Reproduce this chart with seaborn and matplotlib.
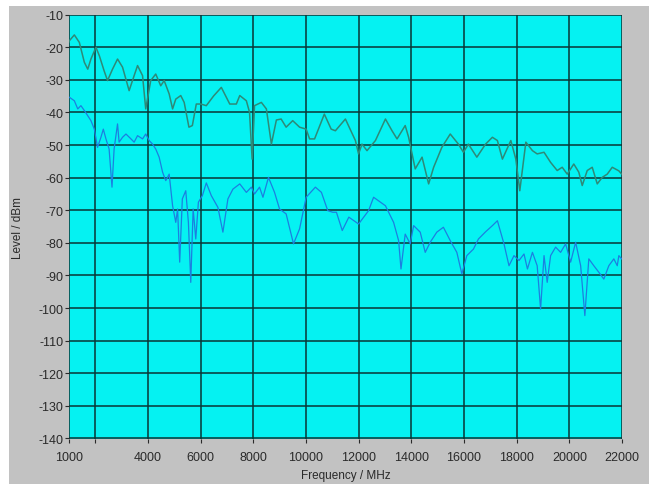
import matplotlib
matplotlib.use("Agg")
import matplotlib.pyplot as plt
from matplotlib.patches import Rectangle
import seaborn as sns
import pandas as pd

# ---- data (frequency in MHz, level in dBm) ----
upper_freq = [1000, 1020, 1210, 1400, 1590, 1720, 1840, 2030, 2160, 2340, 2470, 2660, 2850, 3040,
              3290, 3480, 3610, 3800, 3920, 4110, 4300, 4490, 4620, 4810, 4940, 5060, 5250, 5380,
              5560, 5690, 5840, 6010, 6220, 6500, 6790, 7110, 7360, 7490, 7740, 7860, 7960, 8050,
              8310, 8500, 8690, 8880, 9060, 9250, 9500, 9760, 10010, 10140, 10330, 10700, 10960,
              11120, 11500, 11880, 12000, 12130, 12320, 12640, 13020, 13270, 13460, 13770, 13900,
              14150, 14410, 14660, 14850, 15160, 15480, 15790, 15980, 16170, 16490, 16820, 17080,
              17270, 17460, 17780, 17970, 18120, 18350, 18600, 18780, 19040, 19290, 19540, 19730,
              19920, 20170, 20360, 20490, 20680, 20870, 21060, 21250, 21440, 21630, 21880, 22000]
upper_level = [-18.5, -18.0, -16.2, -18.5, -24.6, -26.7, -23.6, -20.0, -22.6, -27.2, -30.2, -26.7,
               -23.6, -26.1, -33.3, -28.7, -25.6, -28.7, -38.9, -30.2, -28.2, -31.8, -30.2, -34.3,
               -38.9, -35.9, -34.8, -36.9, -44.5, -44.0, -37.4, -37.4, -37.9, -34.9, -32.3, -37.4,
               -37.4, -34.8, -36.4, -39.9, -54.3, -37.9, -36.9, -38.9, -49.7, -42.3, -42.0, -44.5,
               -42.5, -44.5, -45.1, -48.1, -48.1, -40.5, -45.1, -45.6, -42.0, -48.6, -52.7, -49.7,
               -51.7, -48.6, -42.0, -45.6, -48.1, -44.0, -47.6, -57.3, -53.7, -61.9, -56.8, -50.7,
               -46.6, -49.7, -52.2, -49.7, -53.7, -49.7, -47.6, -48.6, -54.3, -48.6, -54.3, -64.0,
               -49.1, -51.7, -52.7, -52.2, -55.3, -57.8, -56.8, -58.9, -55.8, -58.3, -62.4, -57.8,
               -56.8, -61.9, -59.9, -58.9, -56.8, -57.9, -59.0]

lower_freq = [1000, 1020, 1210, 1340, 1460, 1590, 1720, 1840, 1970, 2090, 2220, 2310, 2410, 2530,
              2640, 2720, 2850, 2910, 3040, 3170, 3360, 3480, 3610, 3800, 3920, 4050, 4180, 4300,
              4430, 4560, 4680, 4810, 4940, 5060, 5130, 5210, 5310, 5440, 5540, 5630, 5720, 5820,
              5920, 6070, 6220, 6410, 6660, 6850, 7040, 7230, 7490, 7740, 7930, 8050, 8240, 8370,
              8580, 8810, 9000, 9250, 9530, 9760, 10010, 10360, 10590, 10830, 11020, 11160, 11380,
              11630, 12000, 12380, 12570, 13020, 13330, 13520, 13610, 13770, 13960, 14090, 14340,
              14530, 14720, 14970, 15220, 15480, 15730, 15920, 16110, 16360, 16550, 16820, 17080,
              17270, 17520, 17710, 17900, 18090, 18280, 18410, 18600, 18780, 18910, 19040, 19160,
              19290, 19480, 19670, 19860, 20050, 20240, 20430, 20590, 20740, 20930, 21120, 21310,
              21500, 21690, 21820, 21880, 22000]
lower_level = [-35.5, -35.3, -36.4, -38.9, -37.9, -39.4, -41.0, -42.5, -45.1, -50.7, -47.6, -45.1,
               -48.1, -51.2, -62.9, -51.2, -43.5, -49.1, -47.6, -46.6, -48.1, -49.1, -47.1, -48.1,
               -46.6, -48.6, -49.7, -51.2, -53.7, -58.3, -60.9, -58.9, -68.6, -73.7, -69.6, -85.9,
               -66.5, -64.0, -73.7, -92.1, -69.6, -78.8, -67.5, -65.5, -61.6, -65.5, -69.1, -76.7,
               -66.5, -63.5, -61.9, -64.5, -62.9, -65.0, -62.9, -66.0, -59.9, -64.5, -69.6, -71.1,
               -80.3, -75.7, -66.0, -62.9, -64.5, -70.1, -70.6, -70.6, -76.2, -72.1, -74.2, -70.1,
               -66.0, -68.6, -73.7, -79.3, -88.0, -77.3, -80.3, -74.7, -76.7, -82.9, -79.8, -76.7,
               -75.2, -79.3, -82.9, -89.5, -83.9, -81.9, -78.8, -76.6, -74.7, -73.2, -80.3, -87.0,
               -83.9, -85.4, -83.4, -88.0, -82.9, -87.0, -100.3, -83.9, -92.1, -83.9, -81.3, -82.9,
               -80.3, -85.9, -79.8, -87.0, -102.3, -84.9, -87.0, -89.0, -91.1, -87.0, -84.9, -87.0,
               -83.9, -85.0]

x_ticks = [1000, 2000, 4000, 6000, 8000, 10000, 12000, 14000, 16000, 18000, 20000, 22000]
x_tick_labels = ["1000", "", "4000", "6000", "8000", "10000", "12000", "14000", "16000",
                 "18000", "20000", "22000"]
y_ticks = list(range(-140, -9, 10))

df_upper = pd.DataFrame({"Frequency": upper_freq, "Level": upper_level})
df_lower = pd.DataFrame({"Frequency": lower_freq, "Level": lower_level})

# ---- figure ----
fig = plt.figure(figsize=(6.49, 4.85), dpi=100, facecolor="white")
fig.patches.append(Rectangle((9 / 649, 0), 1, 1 - 7 / 485, transform=fig.transFigure,
                             facecolor="#C2C2C2", edgecolor="none", zorder=-10))
ax = fig.add_axes([68.8 / 649, 1 - 439.5 / 485, (622 - 68.8) / 649, (439.5 - 15.7) / 485])
ax.set_facecolor("#05F2F2")

sns.lineplot(data=df_upper, x="Frequency", y="Level", ax=ax, color="#2E8A78",
             linewidth=1.1, estimator=None, sort=False)
sns.lineplot(data=df_lower, x="Frequency", y="Level", ax=ax, color="#1C7FE0",
             linewidth=0.9, estimator=None, sort=False)

ax.set_xlim(1000, 22000)
ax.set_ylim(-140, -10)
ax.set_xticks(x_ticks)
ax.set_xticklabels(x_tick_labels)
ax.set_yticks(y_ticks)
ax.set_yticklabels([str(v) for v in y_ticks])

ax.grid(True, color="#0A3535", linewidth=1.1)
ax.set_axisbelow(True)
for s in ax.spines.values():
    s.set_visible(False)

ax.tick_params(axis="both", labelsize=9, colors="#2A2A2A", length=3, width=0.8)
ax.tick_params(axis="y", pad=1)
ax.tick_params(axis="x", pad=6)
for lbl in ax.get_xticklabels() + ax.get_yticklabels():
    lbl.set_family(["Liberation Sans", "DejaVu Sans"])

ax.set_xlabel("Frequency / MHz", fontsize=8.5, color="#2A2A2A",
              family=["Liberation Sans", "DejaVu Sans"], labelpad=4)
ax.set_ylabel("Level / dBm", fontsize=8.5, color="#2A2A2A",
              family=["Liberation Sans", "DejaVu Sans"], labelpad=10)

fig.savefig("out.png", dpi=100, facecolor=fig.get_facecolor())
